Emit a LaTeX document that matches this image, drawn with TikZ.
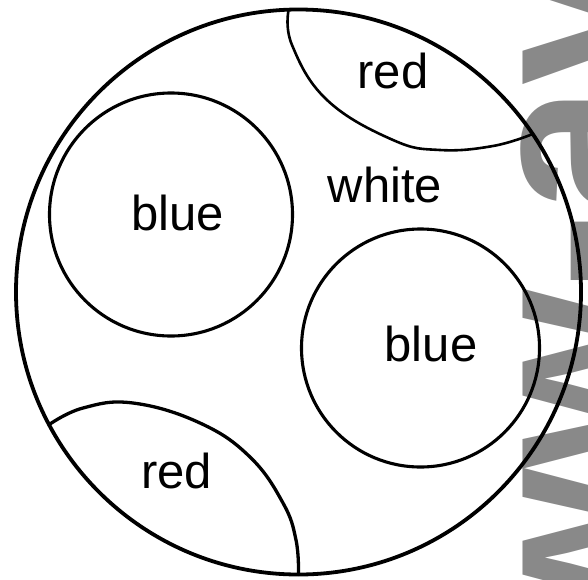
\documentclass[tikz,border=0pt]{standalone}
\usepackage{fontspec}
\setmainfont{Liberation Sans}
\definecolor{wmgray}{RGB}{137,137,137}
\begin{document}
\begin{tikzpicture}[x=1pt,y=-1pt,
  outline/.style={draw=black, line width=3.8pt, circle, inner sep=0pt, outer sep=0pt},
  disc/.style={draw=black, line width=3.1pt, circle, inner sep=0pt, outer sep=0pt},
  lens/.style={draw=black, line width=3.3pt, line cap=round, line join=round},
  lbl/.style={font=\fontsize{49}{49}\selectfont, inner sep=0pt},
  wmark/.style={rotate=90, anchor=base west, inner sep=0pt, text=wmgray,
    font=\bfseries\fontsize{230}{230}\selectfont}]
\useasboundingbox (0,0) rectangle (588,579);
\begin{scope}
  \clip (0,0) rectangle (588,579);
  \node[wmark] (wm) at (644,827) {www-av};
\end{scope}
\node[outline, minimum size=565pt] (big) at (298.5,292) {};
\node[disc, minimum size=243pt] (b1) at (171,214.5) {};
\node[disc, minimum size=238pt] (b2) at (420.5,348) {};
\draw[lens, line width=2.6pt] plot[smooth, tension=0.7] coordinates {(big.92) (292,45) (327,100) (393,140) (440,150) (493,146) (big.34)};
\draw[lens] plot[smooth, tension=0.7] coordinates {(big.208) (83,408) (133,403) (200,423) (250,457) (283,503) (296,540) (big.270)};
\node[lbl] (t1) at (393,71) {red};
\node[lbl] (t2) at (385,185) {white};
\node[lbl] (t3) at (177.5,212.5) {blue};
\node[lbl] (t4) at (431,343.5) {blue};
\node[lbl] (t5) at (176.5,471) {red};
\end{tikzpicture}
\end{document}
